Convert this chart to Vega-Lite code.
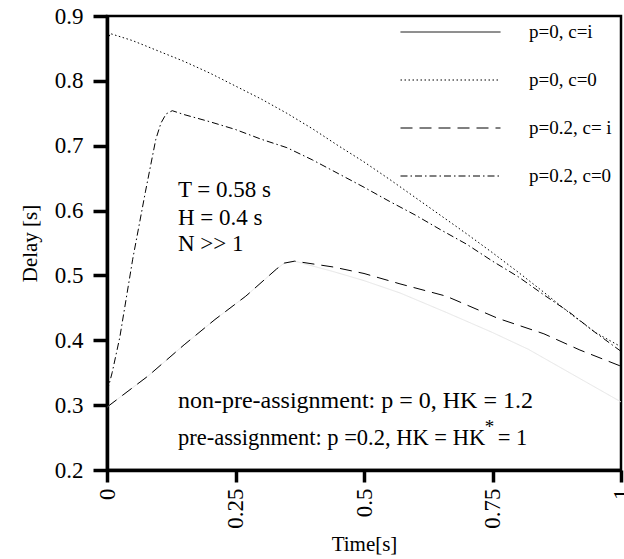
{
  "$schema": "https://vega.github.io/schema/vega-lite/v6.json",
  "autosize": {"type": "none"},
  "padding": {"left": 107, "top": 16, "right": 3, "bottom": 89},
  "width": 514,
  "height": 454,
  "background": "white",
  "config": {
    "view": {"stroke": "black", "strokeWidth": 2.5, "strokeOpacity": 1},
    "font": "Liberation Serif",
    "axis": {
      "grid": false,
      "domainColor": "black",
      "domainWidth": 3.5,
      "domainOpacity": 1,
      "tickColor": "black",
      "tickWidth": 3.5,
      "tickOpacity": 1,
      "labelColor": "black",
      "labelFont": "Liberation Serif",
      "labelFontSize": 23,
      "titleFont": "Liberation Serif",
      "titleFontSize": 21,
      "titleFontWeight": "normal",
      "titleColor": "black"
    },
    "legend": {
      "orient": "none",
      "legendX": 293,
      "legendY": 4,
      "padding": 0,
      "symbolType": "stroke",
      "symbolSize": 10000,
      "symbolStrokeWidth": 1,
      "symbolStrokeColor": "black",
      "symbolOffset": 0,
      "labelFont": "Liberation Serif",
      "labelFontSize": 19,
      "labelColor": "black",
      "labelOffset": 28,
      "clipHeight": 24,
      "rowPadding": 24
    }
  },
  "layer": [
    {
      "data": {
        "values": [
          {"t": 0, "d": 0.297, "s": "p=0, c=i", "tone": "faint"},
          {"t": 0.03, "d": 0.315, "s": "p=0, c=i", "tone": "faint"},
          {"t": 0.08, "d": 0.345, "s": "p=0, c=i", "tone": "faint"},
          {"t": 0.15, "d": 0.393, "s": "p=0, c=i", "tone": "faint"},
          {"t": 0.21, "d": 0.432, "s": "p=0, c=i", "tone": "faint"},
          {"t": 0.27, "d": 0.468, "s": "p=0, c=i", "tone": "faint"},
          {"t": 0.33, "d": 0.51, "s": "p=0, c=i", "tone": "faint"},
          {"t": 0.345, "d": 0.519, "s": "p=0, c=i", "tone": "faint"},
          {"t": 0.365, "d": 0.522, "s": "p=0, c=i", "tone": "faint"},
          {"t": 0.44, "d": 0.506, "s": "p=0, c=i", "tone": "faint"},
          {"t": 0.5, "d": 0.492, "s": "p=0, c=i", "tone": "faint"},
          {"t": 0.57, "d": 0.473, "s": "p=0, c=i", "tone": "faint"},
          {"t": 0.66, "d": 0.443, "s": "p=0, c=i", "tone": "faint"},
          {"t": 0.75, "d": 0.412, "s": "p=0, c=i", "tone": "faint"},
          {"t": 0.82, "d": 0.386, "s": "p=0, c=i", "tone": "faint"},
          {"t": 0.9, "d": 0.35, "s": "p=0, c=i", "tone": "faint"},
          {"t": 1.0, "d": 0.305, "s": "p=0, c=i", "tone": "faint"},

          {"t": 0, "d": 0.857, "s": "p=0, c=0", "tone": "dark"},
          {"t": 0.006, "d": 0.873, "s": "p=0, c=0", "tone": "dark"},
          {"t": 0.05, "d": 0.862, "s": "p=0, c=0", "tone": "dark"},
          {"t": 0.1, "d": 0.846, "s": "p=0, c=0", "tone": "dark"},
          {"t": 0.15, "d": 0.83, "s": "p=0, c=0", "tone": "dark"},
          {"t": 0.2, "d": 0.812, "s": "p=0, c=0", "tone": "dark"},
          {"t": 0.25, "d": 0.792, "s": "p=0, c=0", "tone": "dark"},
          {"t": 0.3, "d": 0.772, "s": "p=0, c=0", "tone": "dark"},
          {"t": 0.35, "d": 0.75, "s": "p=0, c=0", "tone": "dark"},
          {"t": 0.4, "d": 0.726, "s": "p=0, c=0", "tone": "dark"},
          {"t": 0.45, "d": 0.7, "s": "p=0, c=0", "tone": "dark"},
          {"t": 0.5, "d": 0.675, "s": "p=0, c=0", "tone": "dark"},
          {"t": 0.55, "d": 0.648, "s": "p=0, c=0", "tone": "dark"},
          {"t": 0.6, "d": 0.62, "s": "p=0, c=0", "tone": "dark"},
          {"t": 0.65, "d": 0.592, "s": "p=0, c=0", "tone": "dark"},
          {"t": 0.7, "d": 0.564, "s": "p=0, c=0", "tone": "dark"},
          {"t": 0.75, "d": 0.535, "s": "p=0, c=0", "tone": "dark"},
          {"t": 0.8, "d": 0.505, "s": "p=0, c=0", "tone": "dark"},
          {"t": 0.85, "d": 0.474, "s": "p=0, c=0", "tone": "dark"},
          {"t": 0.9, "d": 0.442, "s": "p=0, c=0", "tone": "dark"},
          {"t": 0.95, "d": 0.412, "s": "p=0, c=0", "tone": "dark"},
          {"t": 1.0, "d": 0.39, "s": "p=0, c=0", "tone": "dark"},

          {"t": 0, "d": 0.297, "s": "p=0.2, c= i", "tone": "dark"},
          {"t": 0.03, "d": 0.315, "s": "p=0.2, c= i", "tone": "dark"},
          {"t": 0.08, "d": 0.345, "s": "p=0.2, c= i", "tone": "dark"},
          {"t": 0.15, "d": 0.393, "s": "p=0.2, c= i", "tone": "dark"},
          {"t": 0.21, "d": 0.432, "s": "p=0.2, c= i", "tone": "dark"},
          {"t": 0.27, "d": 0.468, "s": "p=0.2, c= i", "tone": "dark"},
          {"t": 0.33, "d": 0.51, "s": "p=0.2, c= i", "tone": "dark"},
          {"t": 0.345, "d": 0.519, "s": "p=0.2, c= i", "tone": "dark"},
          {"t": 0.365, "d": 0.522, "s": "p=0.2, c= i", "tone": "dark"},
          {"t": 0.44, "d": 0.513, "s": "p=0.2, c= i", "tone": "dark"},
          {"t": 0.5, "d": 0.503, "s": "p=0.2, c= i", "tone": "dark"},
          {"t": 0.57, "d": 0.487, "s": "p=0.2, c= i", "tone": "dark"},
          {"t": 0.66, "d": 0.468, "s": "p=0.2, c= i", "tone": "dark"},
          {"t": 0.76, "d": 0.434, "s": "p=0.2, c= i", "tone": "dark"},
          {"t": 0.85, "d": 0.41, "s": "p=0.2, c= i", "tone": "dark"},
          {"t": 0.92, "d": 0.385, "s": "p=0.2, c= i", "tone": "dark"},
          {"t": 1.0, "d": 0.36, "s": "p=0.2, c= i", "tone": "dark"},

          {"t": 0, "d": 0.32, "s": "p=0.2, c=0", "tone": "dark"},
          {"t": 0.01, "d": 0.35, "s": "p=0.2, c=0", "tone": "dark"},
          {"t": 0.025, "d": 0.405, "s": "p=0.2, c=0", "tone": "dark"},
          {"t": 0.05, "d": 0.525, "s": "p=0.2, c=0", "tone": "dark"},
          {"t": 0.075, "d": 0.63, "s": "p=0.2, c=0", "tone": "dark"},
          {"t": 0.095, "d": 0.71, "s": "p=0.2, c=0", "tone": "dark"},
          {"t": 0.105, "d": 0.735, "s": "p=0.2, c=0", "tone": "dark"},
          {"t": 0.115, "d": 0.749, "s": "p=0.2, c=0", "tone": "dark"},
          {"t": 0.127, "d": 0.754, "s": "p=0.2, c=0", "tone": "dark"},
          {"t": 0.15, "d": 0.748, "s": "p=0.2, c=0", "tone": "dark"},
          {"t": 0.2, "d": 0.737, "s": "p=0.2, c=0", "tone": "dark"},
          {"t": 0.25, "d": 0.725, "s": "p=0.2, c=0", "tone": "dark"},
          {"t": 0.3, "d": 0.71, "s": "p=0.2, c=0", "tone": "dark"},
          {"t": 0.35, "d": 0.697, "s": "p=0.2, c=0", "tone": "dark"},
          {"t": 0.4, "d": 0.678, "s": "p=0.2, c=0", "tone": "dark"},
          {"t": 0.45, "d": 0.657, "s": "p=0.2, c=0", "tone": "dark"},
          {"t": 0.5, "d": 0.636, "s": "p=0.2, c=0", "tone": "dark"},
          {"t": 0.55, "d": 0.614, "s": "p=0.2, c=0", "tone": "dark"},
          {"t": 0.6, "d": 0.593, "s": "p=0.2, c=0", "tone": "dark"},
          {"t": 0.65, "d": 0.57, "s": "p=0.2, c=0", "tone": "dark"},
          {"t": 0.7, "d": 0.548, "s": "p=0.2, c=0", "tone": "dark"},
          {"t": 0.75, "d": 0.522, "s": "p=0.2, c=0", "tone": "dark"},
          {"t": 0.8, "d": 0.498, "s": "p=0.2, c=0", "tone": "dark"},
          {"t": 0.85, "d": 0.47, "s": "p=0.2, c=0", "tone": "dark"},
          {"t": 0.9, "d": 0.443, "s": "p=0.2, c=0", "tone": "dark"},
          {"t": 0.95, "d": 0.412, "s": "p=0.2, c=0", "tone": "dark"},
          {"t": 1.0, "d": 0.383, "s": "p=0.2, c=0", "tone": "dark"}
        ]
      },
      "mark": {"type": "line", "strokeWidth": 1},
      "encoding": {
        "x": {
          "field": "t", "type": "quantitative",
          "scale": {"domain": [0, 1], "nice": false, "zero": false},
          "axis": {
            "title": "Time[s]",
            "values": [0, 0.25, 0.5, 0.75, 1],
            "format": ".2~f",
            "labelAngle": -90,
            "tickSize": 12,
            "tickWidth": 3.5,
            "domainWidth": 3.5,
            "labelPadding": 6,
            "titlePadding": 5
          }
        },
        "y": {
          "field": "d", "type": "quantitative",
          "scale": {"domain": [0.2, 0.9], "nice": false, "zero": false},
          "axis": {
            "title": "Delay [s]",
            "values": [0.2, 0.3, 0.4, 0.5, 0.6, 0.7, 0.8, 0.9],
            "format": ".1f",
            "tickSize": 14,
            "tickWidth": 3.5,
            "domainWidth": 3.5,
            "labelPadding": 10,
            "titlePadding": 14
          }
        },
        "strokeDash": {
          "field": "s", "type": "nominal",
          "scale": {
            "domain": ["p=0, c=i", "p=0, c=0", "p=0.2, c= i", "p=0.2, c=0"],
            "range": [[1, 0], [1.5, 2.5], [12, 7], [7, 3, 1.5, 3]]
          },
          "legend": {"title": null}
        },
        "color": {
          "field": "tone", "type": "nominal",
          "scale": {"domain": ["faint", "dark"], "range": ["#e6e6e6", "black"]},
          "legend": null
        }
      }
    },
    {
      "data": {
        "values": [
          {"tx": 0.138, "ty": 0.631, "label": "T = 0.58 s"},
          {"tx": 0.138, "ty": 0.589, "label": "H = 0.4 s"},
          {"tx": 0.138, "ty": 0.549, "label": "N >> 1"}
        ]
      },
      "mark": {"type": "text", "align": "left", "baseline": "middle", "font": "Liberation Serif", "fontSize": 23, "color": "black"},
      "encoding": {
        "x": {"field": "tx", "type": "quantitative"},
        "y": {"field": "ty", "type": "quantitative"},
        "text": {"field": "label"}
      }
    },
    {
      "data": {
        "values": [
          {"tx": 0.138, "ty": 0.306, "label": "non-pre-assignment: p = 0, HK = 1.2"}
        ]
      },
      "mark": {"type": "text", "align": "left", "baseline": "middle", "font": "Liberation Serif", "fontSize": 24, "color": "black"},
      "encoding": {
        "x": {"field": "tx", "type": "quantitative"},
        "y": {"field": "ty", "type": "quantitative"},
        "text": {"field": "label"}
      }
    },
    {
      "data": {
        "values": [
          {"tx": 0.138, "ty": 0.249, "label": "pre-assignment: p =0.2, HK = HK"},
          {"tx": 0.76, "ty": 0.249, "label": "= 1"}
        ]
      },
      "mark": {"type": "text", "align": "left", "baseline": "middle", "font": "Liberation Serif", "fontSize": 22.5, "color": "black"},
      "encoding": {
        "x": {"field": "tx", "type": "quantitative"},
        "y": {"field": "ty", "type": "quantitative"},
        "text": {"field": "label"}
      }
    },
    {
      "data": {"values": [{"tx": 0.744, "ty": 0.266, "label": "*"}]},
      "mark": {"type": "text", "align": "center", "baseline": "middle", "font": "Liberation Serif", "fontSize": 19, "color": "black"},
      "encoding": {
        "x": {"field": "tx", "type": "quantitative"},
        "y": {"field": "ty", "type": "quantitative"},
        "text": {"field": "label"}
      }
    }
  ]
}
